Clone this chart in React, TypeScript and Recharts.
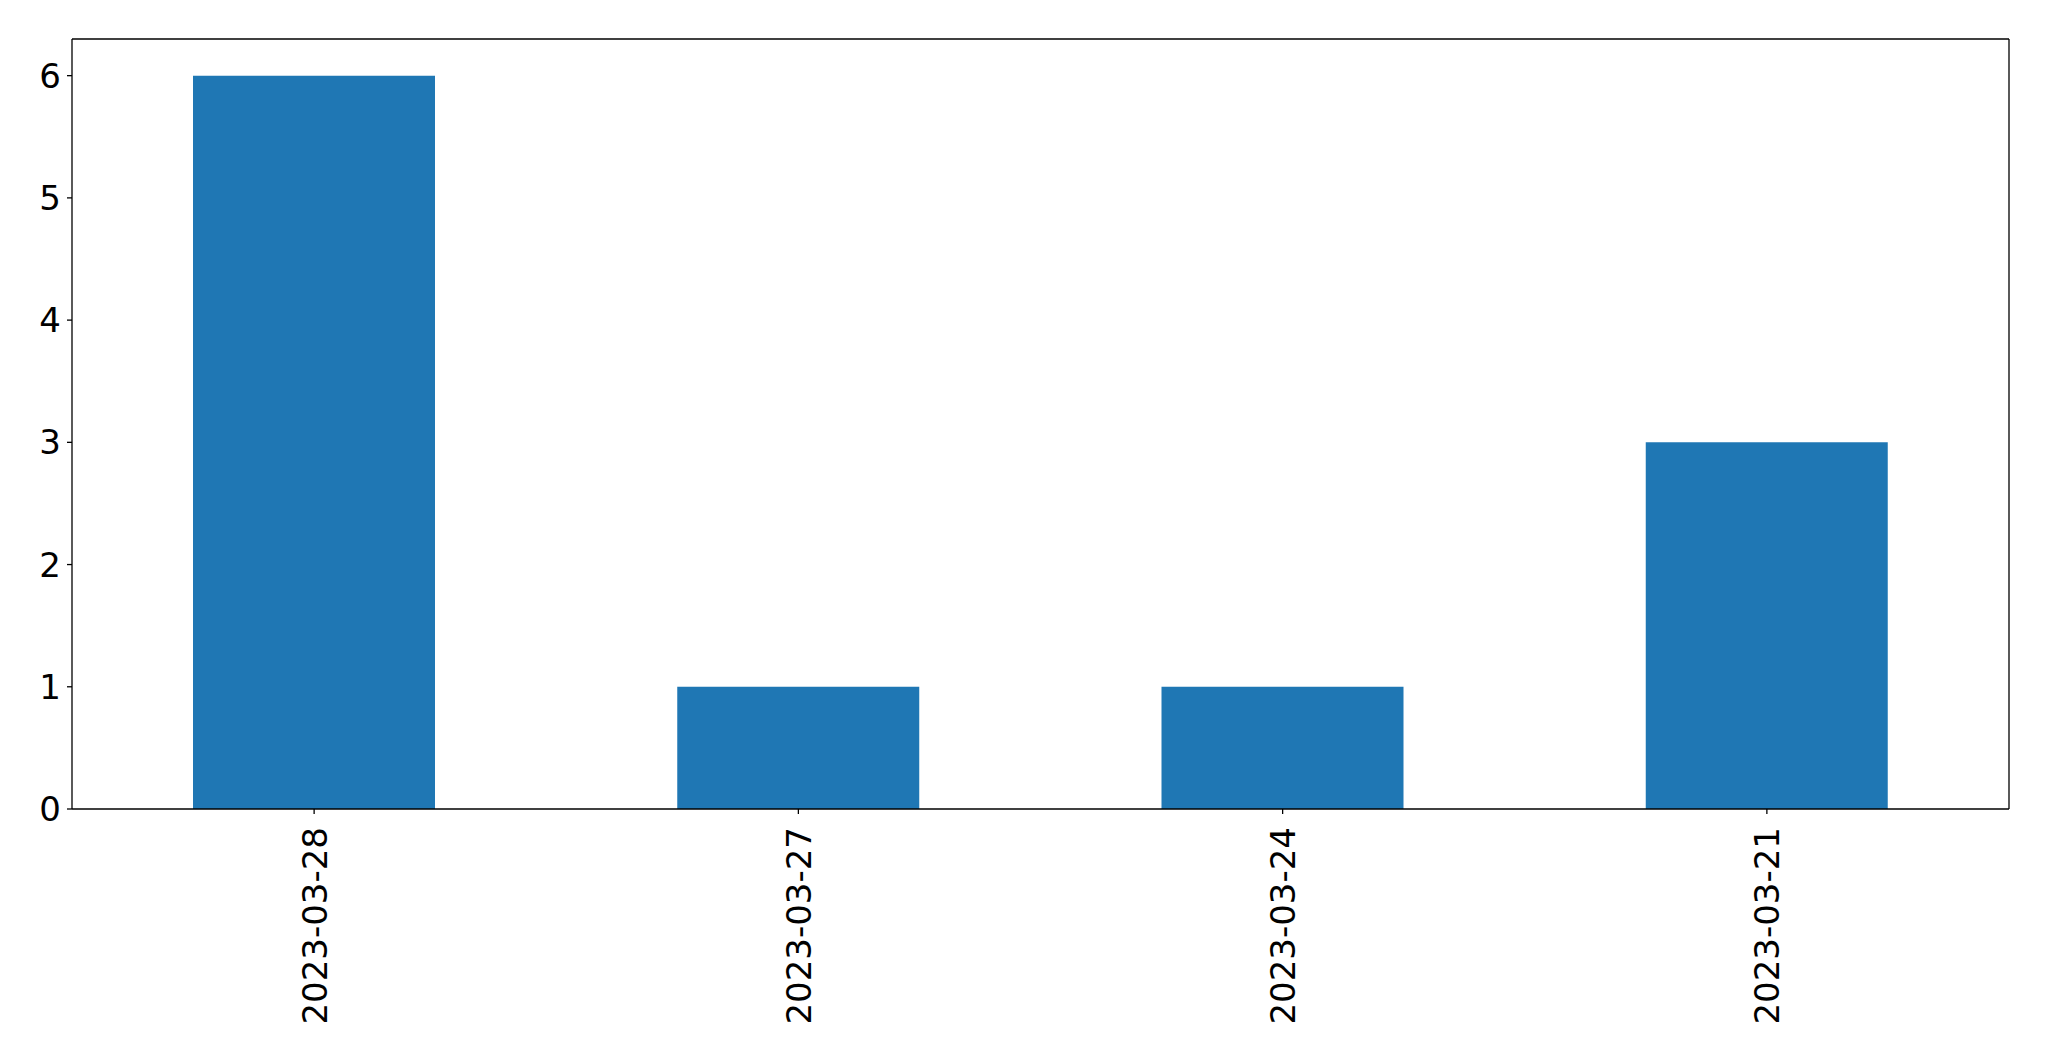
import { BarChart, Bar, XAxis, YAxis } from "recharts";

const dates = ["2023-03-28", "2023-03-27", "2023-03-24", "2023-03-21"];
const counts = [6, 1, 1, 3];
const yTicks = [0, 1, 2, 3, 4, 5, 6];

const data = dates.map((d, i) => ({ date: d, count: counts[i] }));

const FONT = "DejaVu Sans, sans-serif";
const FS = 34;

function DateTick({ x, y, payload }: any) {
  return (
    <text
      x={x}
      y={y}
      dy="0.365em"
      transform={`rotate(-90, ${x}, ${y})`}
      textAnchor="end"
      fontFamily={FONT}
      fontSize={FS}
      fill="#000"
    >
      {payload.value}
    </text>
  );
}

export default function App() {
  return (
    <div style={{ position: "absolute", left: 0, top: 0, background: "#fff" }}>
      <BarChart
        width={2049}
        height={1061}
        data={data}
        margin={{ top: 38, right: 39, bottom: 0, left: 0 }}
      >
        <XAxis
          dataKey="date"
          height={252}
          interval={0}
          tick={<DateTick />}
          tickSize={5}
          tickMargin={13}
          axisLine={{ stroke: "#000", strokeWidth: 1.3 }}
          tickLine={{ stroke: "#000", strokeWidth: 1.3 }}
        />
        <XAxis
          xAxisId="top"
          orientation="top"
          dataKey="date"
          height={1}
          tick={false}
          tickLine={false}
          axisLine={{ stroke: "#000", strokeWidth: 1.3 }}
        />
        <YAxis
          width={72}
          domain={[0, 6.3]}
          ticks={yTicks}
          interval={0}
          tickSize={5}
          tickMargin={6}
          tick={{ fontFamily: FONT, fontSize: FS, fill: "#000" }}
          axisLine={{ stroke: "#000", strokeWidth: 1.3 }}
          tickLine={{ stroke: "#000", strokeWidth: 1.3 }}
        />
        <YAxis
          yAxisId="right"
          orientation="right"
          width={1}
          domain={[0, 6.3]}
          tick={false}
          tickLine={false}
          axisLine={{ stroke: "#000", strokeWidth: 1.3 }}
        />
        <Bar dataKey="count" fill="#1f77b4" barSize={242} isAnimationActive={false} />
      </BarChart>
    </div>
  );
}
